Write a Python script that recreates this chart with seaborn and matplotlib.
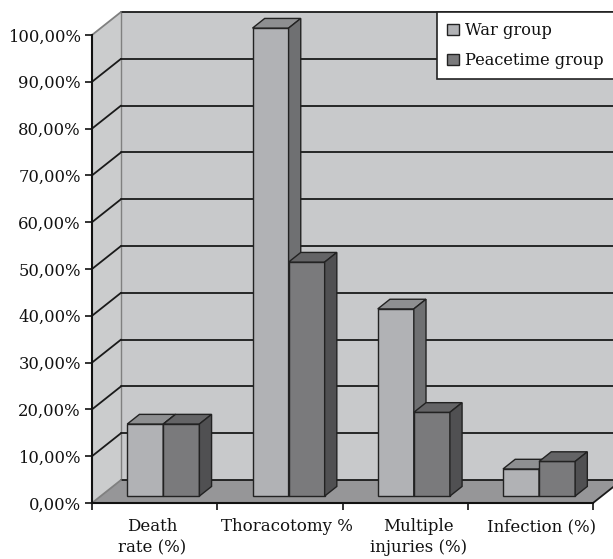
import matplotlib
matplotlib.use("Agg")
import matplotlib.pyplot as plt
from matplotlib.patches import Polygon, Patch
from matplotlib.lines import Line2D
import seaborn as sns
import pandas as pd

# DATA
categories = ["Death\nrate (%)", "Thoracotomy %", "Multiple\ninjuries (%)", "Infection (%)"]
groups = ["War group", "Peacetime group"]
war_values = [15.4, 100.0, 40.0, 5.8]
peace_values = [15.4, 50.0, 17.9, 7.4]
y_ticks = [0, 10, 20, 30, 40, 50, 60, 70, 80, 90, 100]
y_tick_labels = [f"{v:.2f}%".replace(".", ",") for v in y_ticks]

# STYLE
wall_color = "#c8c9cb"
side_wall_color = "#cbcccd"
floor_color = "#969698"
edge = "#222222"
ink = "#111111"
war_colors = ("#b1b2b5", "#8e8f91", "#6f7072")    # front, top, side
peace_colors = ("#7a7a7c", "#646466", "#505052")

# depth of the 3d box, in data units (x: categories, y: percent)
D_X = 29 / 125.25
D_Y = 23 / 4.68
D_FRONT = 0.3   # where the bars start inside the box
D_BAR = 0.42    # depth of a bar


def off(x, y, d):
    return (x + D_X * d, y + D_Y * d)


sns.set_theme(style="white")
plt.rcParams["font.family"] = ["DejaVu Serif"]

fig = plt.figure(figsize=(6.13, 5.59), dpi=100)
ax = fig.add_axes([92 / 613, 56 / 559, 501 / 613, 468 / 559])

df = pd.DataFrame({
    "category": categories * 2,
    "group": [groups[0]] * len(categories) + [groups[1]] * len(categories),
    "value": war_values + peace_values,
})
sns.barplot(data=df, x="category", y="value", hue="group", order=categories,
            hue_order=groups, palette=[war_colors[0], peace_colors[0]],
            width=0.576, gap=0, saturation=1, errorbar=None, legend=False,
            edgecolor=edge, linewidth=1, ax=ax)
bars = list(ax.patches)

ax.set_xlim(-0.5, 3.5)
ax.set_ylim(0, 100)
ax.set_xlabel("")
ax.set_ylabel("")

# walls and floor
back = Polygon([off(-0.5, 0, 1), off(3.5, 0, 1), off(3.5, 100, 1), off(-0.5, 100, 1)],
               closed=True, facecolor=wall_color, edgecolor="none", zorder=0.5, clip_on=False)
side = Polygon([(-0.5, 0), (-0.5, 100), off(-0.5, 100, 1), off(-0.5, 0, 1)],
               closed=True, facecolor=side_wall_color, edgecolor="none", zorder=0.5, clip_on=False)
floor = Polygon([(-0.5, 0), (3.5, 0), off(3.5, 0, 1), off(-0.5, 0, 1)],
                closed=True, facecolor=floor_color, edgecolor="none", zorder=0.7, clip_on=False)
for p in (back, side, floor):
    ax.add_patch(p)

# gridlines on the back and side walls
for t in y_ticks:
    (bx0, by0), (bx1, by1) = off(-0.5, t, 1), off(3.5, t, 1)
    ax.add_line(Line2D([bx0, bx1], [by0, by1], color="#1a1a1a", lw=1.3, zorder=0.8, clip_on=False))
    sx, sy = off(-0.5, t, 1)
    c = "#1a1a1a" if 0 < t < 100 else "#808080"
    ax.add_line(Line2D([-0.5, sx], [t, sy], color=c, lw=1.3, zorder=0.8, clip_on=False))
vx, vy0 = off(-0.5, 0, 1)
_, vy1 = off(-0.5, 100, 1)
ax.add_line(Line2D([vx, vx], [vy0, vy1], color="#808080", lw=1.0, zorder=0.75, clip_on=False))
fx, fy = off(3.5, 0, 1)
ax.add_line(Line2D([3.5, fx], [0, fy], color="#1a1a1a", lw=1.3, zorder=0.8, clip_on=False))

# 3d bars: shift the front faces into the box, add top and side faces
n = len(categories)
for i, p in enumerate(bars):
    cols = war_colors if i < n else peace_colors
    z = 2 if i < n else 3
    p.set_x(p.get_x() + D_X * D_FRONT)
    p.set_y(p.get_y() + D_Y * D_FRONT)
    p.set_zorder(z)
    p.set_clip_on(False)
    x0, x1 = p.get_x(), p.get_x() + p.get_width()
    yb, yt = p.get_y(), p.get_y() + p.get_height()
    dx, dy = D_X * D_BAR, D_Y * D_BAR
    top = Polygon([(x0, yt), (x1, yt), (x1 + dx, yt + dy), (x0 + dx, yt + dy)], closed=True,
                  facecolor=cols[1], edgecolor=edge, lw=1, zorder=z, clip_on=False)
    rside = Polygon([(x1, yb), (x1 + dx, yb + dy), (x1 + dx, yt + dy), (x1, yt)], closed=True,
                    facecolor=cols[2], edgecolor=edge, lw=1, zorder=z, clip_on=False)
    ax.add_patch(top)
    ax.add_patch(rside)

# axes
sns.despine(ax=ax)
for s in ("left", "bottom"):
    ax.spines[s].set_color(ink)
    ax.spines[s].set_linewidth(1.5)
    ax.spines[s].set_zorder(4)
ax.set_yticks(y_ticks, labels=y_tick_labels)
ax.tick_params(axis="y", direction="out", length=5, width=1.2, pad=3, labelsize=11.8,
               color=ink, labelcolor=ink, left=True)
ax.set_xticks([-0.5, 0.5, 1.5, 2.5, 3.5], labels=[""] * 5)
ax.tick_params(axis="x", which="major", direction="out", length=5, width=1.2,
               color=ink, bottom=True)
label_shift = [-0.02, 0.06, 0.11, 0.09]
ax.set_xticks([i + s for i, s in enumerate(label_shift)], labels=categories, minor=True)
ax.tick_params(axis="x", which="minor", length=0, pad=11, labelsize=12, labelcolor=ink)
for lab in ax.get_xticklabels(minor=True):
    lab.set_linespacing(1.3)

handles = [Patch(facecolor=war_colors[0], edgecolor=edge, label=groups[0]),
           Patch(facecolor=peace_colors[0], edgecolor=edge, label=groups[1])]
leg = ax.legend(handles=handles, loc="upper left", bbox_to_anchor=(437 / 613, 1 - 12 / 559),
                bbox_transform=fig.transFigure, borderaxespad=0, frameon=True, fancybox=False,
                framealpha=1, edgecolor="#222222", fontsize=11.7, handlelength=0.72,
                handleheight=0.72, handletextpad=0.4, labelspacing=0.8, borderpad=0.62)
leg.get_frame().set_linewidth(1.2)
leg.set_zorder(10)
for txt in leg.get_texts():
    txt.set_color(ink)

fig.savefig("out.png", dpi=100)
